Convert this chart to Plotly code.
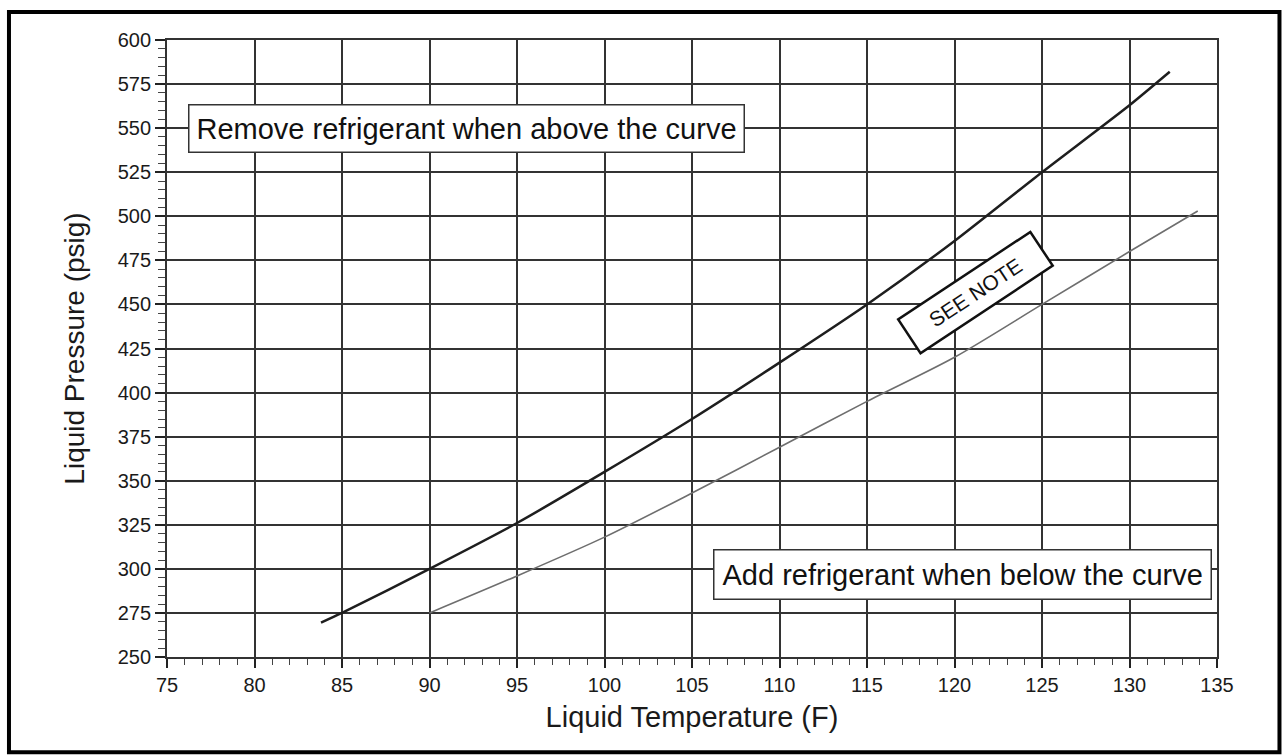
import plotly.graph_objects as go

# Charging curve readings (liquid temperature F -> liquid pressure psig)
upper_temp = [83.8, 85, 90, 95, 100, 105, 110, 115, 120, 125, 130, 132.3]
upper_press = [269.5, 275, 300, 326, 355, 385, 417, 450, 486, 525, 563, 582]

lower_temp = [90, 95, 100, 105, 110, 115, 120, 125, 130, 133.9]
lower_press = [275, 296, 318, 343, 369, 395, 420, 450, 480, 503]

x_ticks = list(range(75, 136, 5))
y_ticks = list(range(250, 601, 25))

FONT = "Liberation Sans, Arial, Helvetica, sans-serif"

fig = go.Figure()

# upper curve
fig.add_trace(go.Scatter(
    x=upper_temp,
    y=upper_press,
    mode="lines",
    line=dict(color="#1e1e1e", width=2.5, shape="spline", smoothing=0.6),
    showlegend=False,
    hoverinfo="skip"
))

# lower curve
fig.add_trace(go.Scatter(
    x=lower_temp,
    y=lower_press,
    mode="lines",
    line=dict(color="#6e6e6e", width=1.6, shape="spline", smoothing=0.8),
    showlegend=False,
    hoverinfo="skip"
))

# text boxes
fig.add_annotation(
    x=76.2, y=550, xref="x", yref="y",
    xanchor="left", yanchor="middle",
    text="Remove refrigerant when above the curve",
    showarrow=False,
    font=dict(family=FONT, size=29, color="#111"),
    bgcolor="white", bordercolor="#333", borderwidth=1.5, borderpad=7
)
fig.add_annotation(
    x=134.7, y=297, xref="x", yref="y",
    xanchor="right", yanchor="middle",
    text="Add refrigerant when below the curve",
    showarrow=False,
    font=dict(family=FONT, size=29, color="#111"),
    bgcolor="white", bordercolor="#333", borderwidth=1.5, borderpad=8
)
fig.add_annotation(
    x=121.2, y=456.7, xref="x", yref="y",
    text="SEE NOTE",
    textangle=-33.5,
    showarrow=False,
    width=152, height=34,
    font=dict(family=FONT, size=21, color="#111"),
    bgcolor="white", bordercolor="#111", borderwidth=2.5, borderpad=2
)

# outer frame of the figure
fig.add_shape(
    type="rect", xref="paper", yref="paper",
    x0=-0.1505, x1=1.0595, y0=-0.1545, y1=1.0455,
    line=dict(color="black", width=4),
    fillcolor="rgba(0,0,0,0)",
    layer="above"
)

fig.update_layout(
    width=1284,
    height=756,
    paper_bgcolor="white",
    plot_bgcolor="white",
    margin=dict(l=167, r=67, t=40, b=99),
    font=dict(family=FONT, color="#1a1a1a"),
    xaxis=dict(
        range=[75, 135],
        tickmode="array",
        tickvals=x_ticks,
        ticks="outside",
        ticklen=9,
        tickwidth=1.5,
        tickcolor="#222",
        tickfont=dict(size=20),
        showgrid=True,
        gridcolor="#333",
        gridwidth=1.5,
        showline=True,
        linecolor="#333",
        linewidth=1.8,
        mirror=True,
        zeroline=False,
        minor=dict(dtick=1, ticks="outside", ticklen=6, tickwidth=1.3,
                   tickcolor="#444", showgrid=False),
        title=dict(text="Liquid Temperature (F)", font=dict(size=29), standoff=12)
    ),
    yaxis=dict(
        range=[250, 600],
        tickmode="array",
        tickvals=y_ticks,
        ticks="outside",
        ticklen=10,
        tickwidth=1.5,
        tickcolor="#222",
        tickfont=dict(size=20),
        showgrid=True,
        gridcolor="#333",
        gridwidth=1.5,
        showline=True,
        linecolor="#333",
        linewidth=1.8,
        mirror=True,
        zeroline=False,
        minor=dict(dtick=5, ticks="outside", ticklen=7, tickwidth=1.3,
                   tickcolor="#444", showgrid=False),
        title=dict(text="Liquid Pressure (psig)", font=dict(size=28), standoff=25)
    )
)

# drop the page's default body margin so the figure sits at the window corner
fig.write_html("out.html", config={"displayModeBar": False},
               post_script="document.body.style.margin='0';")
